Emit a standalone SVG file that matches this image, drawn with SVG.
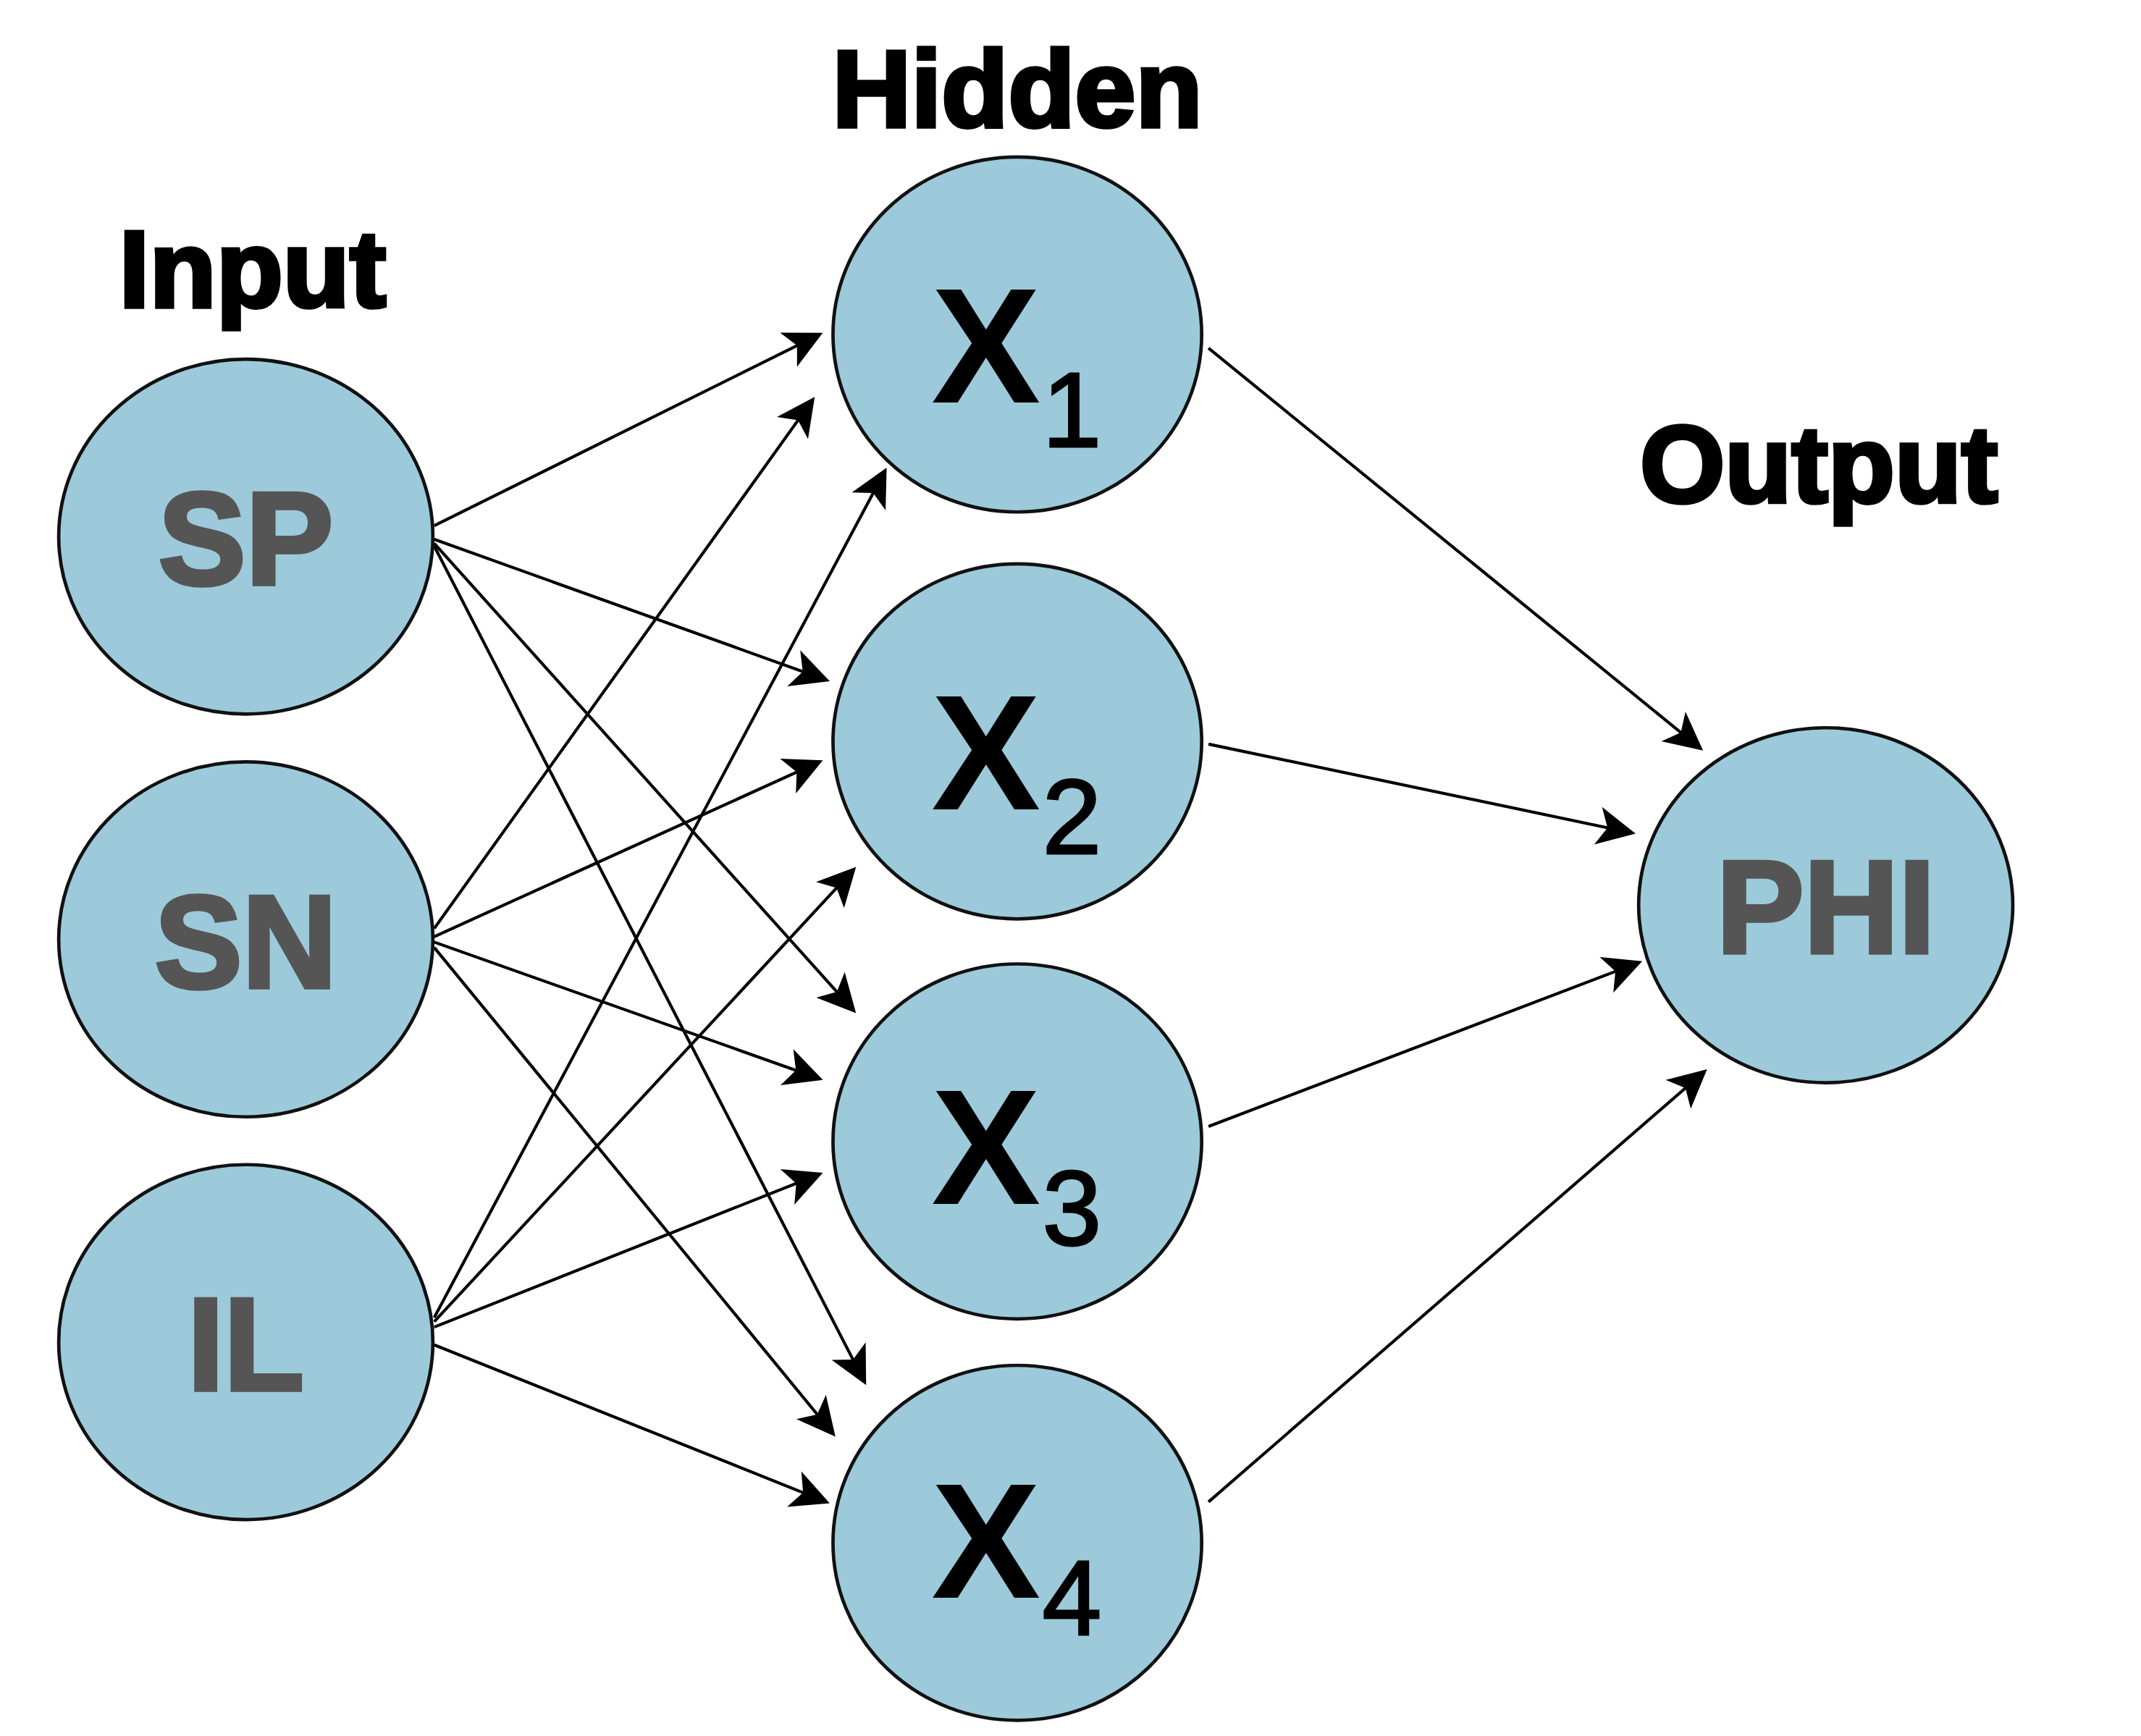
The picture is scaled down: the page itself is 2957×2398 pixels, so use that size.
<svg xmlns="http://www.w3.org/2000/svg" width="2957" height="2398" viewBox="0 0 2957 2398">
<style>
.n{fill:#9ccadb;stroke:#111;stroke-width:2.5}
.l{font-family:"Liberation Sans",Arial,sans-serif;font-weight:bold;fill:#555;font-size:96px;text-anchor:middle;stroke:#555;stroke-width:3}
.x{font-family:"Liberation Sans",Arial,sans-serif;font-weight:bold;fill:#000;font-size:120px;text-anchor:middle}
.s{font-family:"Liberation Sans",Arial,sans-serif;fill:#000;font-size:78px;text-anchor:middle;stroke:#000;stroke-width:1.5}
.h{font-family:"Liberation Sans",Arial,sans-serif;font-weight:bold;fill:#000;font-size:80px;text-anchor:middle;stroke:#000;stroke-width:3}
.c line{stroke:#000;stroke-width:2.2;marker-end:url(#a)}
</style>
<defs><marker id="a" viewBox="0 0 10 10" refX="9" refY="5" markerWidth="32" markerHeight="28" markerUnits="userSpaceOnUse" orient="auto"><path d="M0,0L10,5L0,10L2.5,5z" fill="#000"/></marker></defs>
<rect width="2957" height="2398" fill="#fff"/>
<g transform="scale(1.886)">
<text class="h" x="185" y="225">Input</text>
<text class="h" x="745" y="93">Hidden</text>
<text class="h" x="1332" y="368">Output</text>
<g class="c">
<line x1="318" y1="385" x2="600" y2="245"/>
<line x1="318" y1="395" x2="605" y2="498"/>
<line x1="318" y1="398" x2="625" y2="740"/>
<line x1="318" y1="400" x2="633" y2="1012"/>
<line x1="318" y1="680" x2="595" y2="293"/>
<line x1="318" y1="686" x2="600" y2="558"/>
<line x1="318" y1="690" x2="600" y2="790"/>
<line x1="318" y1="694" x2="610" y2="1050"/>
<line x1="318" y1="965" x2="648" y2="345"/>
<line x1="318" y1="968" x2="625" y2="637"/>
<line x1="318" y1="972" x2="600" y2="860"/>
<line x1="318" y1="985" x2="605" y2="1100"/>
<line x1="885" y1="255" x2="1245" y2="548"/>
<line x1="885" y1="545" x2="1195" y2="610"/>
<line x1="885" y1="825" x2="1200" y2="705"/>
<line x1="885" y1="1100" x2="1248" y2="785"/>
</g>
<g id="SP"><ellipse class="n" cx="180" cy="393" rx="137" ry="130"/><text class="l" x="180" y="428">SP</text></g>
<g id="SN"><ellipse class="n" cx="180" cy="688" rx="137" ry="130"/><text class="l" x="180" y="723">SN</text></g>
<g id="IL"><ellipse class="n" cx="180" cy="983" rx="137" ry="130"/><text class="l" x="180" y="1018">IL</text></g>
<g id="X1"><ellipse class="n" cx="745" cy="245" rx="135" ry="130"/><text class="x" x="722" y="295">X</text><text class="s" x="785" y="327">1</text></g>
<g id="X2"><ellipse class="n" cx="745" cy="543" rx="135" ry="130"/><text class="x" x="722" y="593">X</text><text class="s" x="785" y="625">2</text></g>
<g id="X3"><ellipse class="n" cx="745" cy="836" rx="135" ry="130"/><text class="x" x="722" y="882">X</text><text class="s" x="785" y="912">3</text></g>
<g id="X4"><ellipse class="n" cx="745" cy="1130" rx="135" ry="130"/><text class="x" x="722" y="1170">X</text><text class="s" x="785" y="1197">4</text></g>
<g id="PHI"><ellipse class="n" cx="1337" cy="663" rx="137" ry="130"/><text class="l" x="1337" y="698">PHI</text></g>
</g>
</svg>
